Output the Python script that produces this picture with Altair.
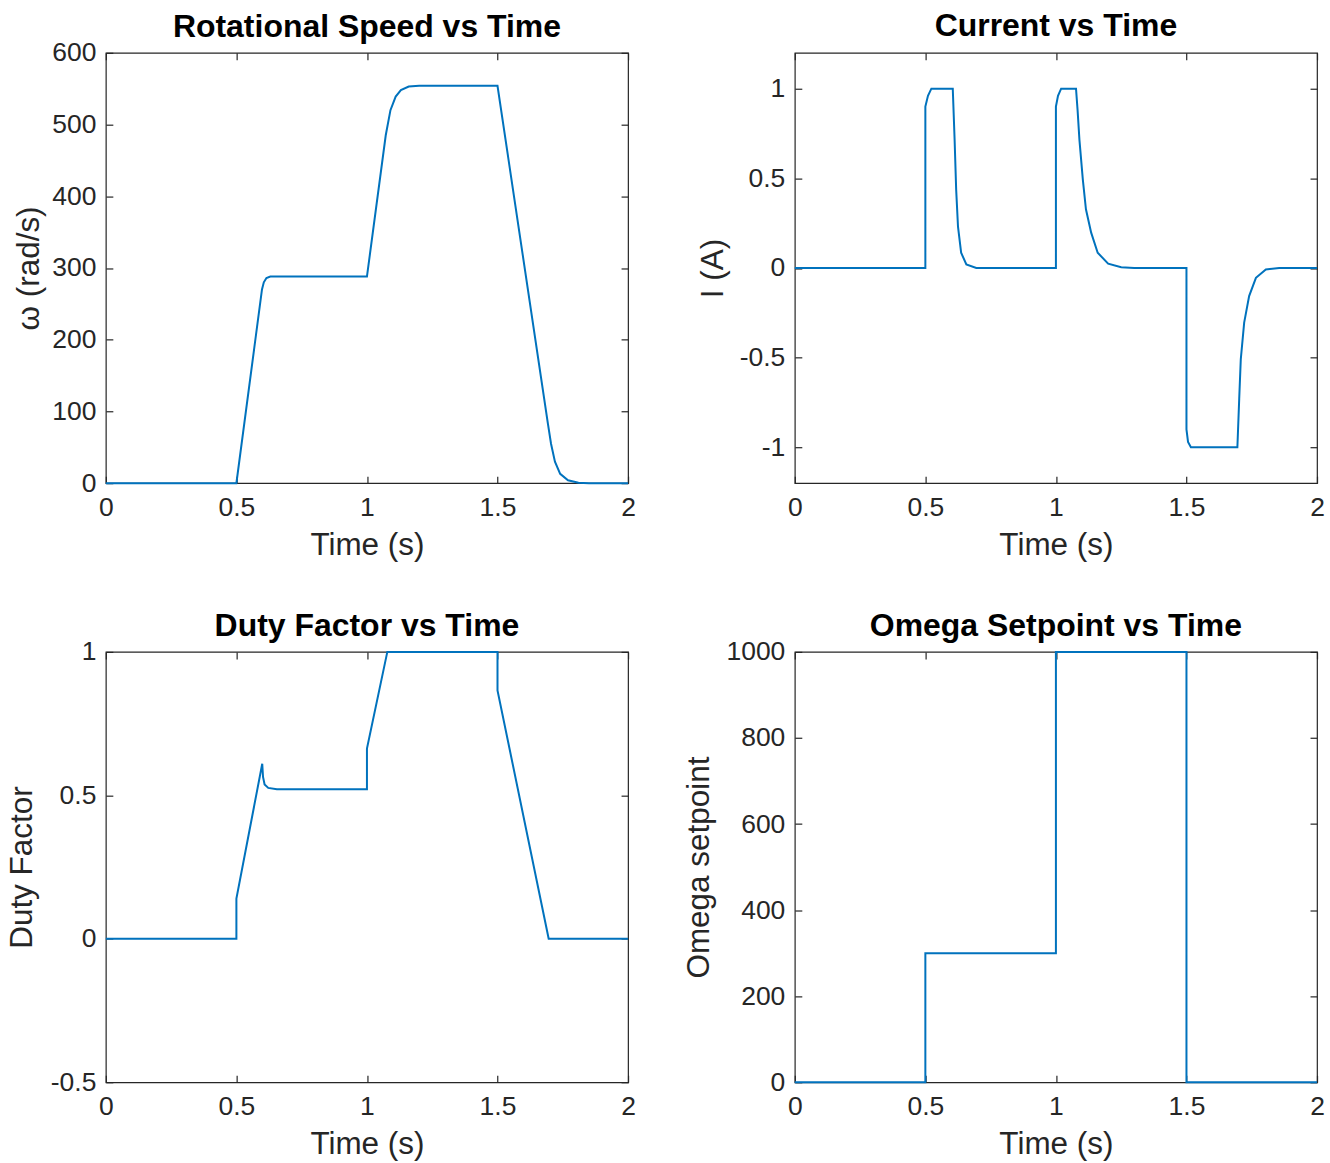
import altair as alt
import pandas as pd

# ---------------- data ----------------
speed_t = [0, 0.5, 0.598, 0.605, 0.615, 0.63, 1.0, 1.072, 1.09, 1.11, 1.13, 1.16, 1.2, 1.5,
           1.693, 1.705, 1.72, 1.74, 1.77, 1.81, 1.85, 2.0]
speed_w = [0, 0, 270, 280, 286, 288, 288, 485, 520, 539, 548, 553, 554, 554,
           83, 55, 30, 13, 4, 0.5, 0, 0]

cur_t = [0, 0.5, 0.5, 0.51, 0.523, 0.605, 0.612, 0.618, 0.625, 0.637, 0.657, 0.695,
         1.0, 1.0, 1.008, 1.02, 1.077, 1.083, 1.09, 1.103, 1.115, 1.135, 1.16, 1.2, 1.25, 1.3,
         1.5, 1.5, 1.506, 1.517, 1.695, 1.702, 1.708, 1.721, 1.740, 1.766, 1.804, 1.855, 2.0]
cur_a = [0, 0, 0.9, 0.96, 1.0, 1.0, 0.716, 0.437, 0.23, 0.085, 0.02, 0,
         0, 0.9, 0.96, 1.0, 1.0, 0.88, 0.716, 0.494, 0.327, 0.197, 0.085, 0.024, 0.004, 0,
         0, -0.9, -0.97, -1.0, -1.0, -0.73, -0.51, -0.305, -0.157, -0.055, -0.008, 0, 0]

duty_t = [0, 0.5, 0.5, 0.599, 0.602, 0.608, 0.622, 0.655, 1.0, 1.0, 1.078, 1.5, 1.5, 1.696, 2.0]
duty_v = [0, 0, 0.14, 0.61, 0.564, 0.538, 0.526, 0.521, 0.521, 0.663, 1.0, 1.0, 0.866, 0, 0]

set_t = [0, 0.5, 0.5, 1.0, 1.0, 1.5, 1.5, 2.0]
set_v = [0, 0, 300, 300, 1000, 1000, 0, 0]

x_ticks = [0, 0.5, 1, 1.5, 2]
speed_ticks = [0, 100, 200, 300, 400, 500, 600]
cur_ticks = [-1, -0.5, 0, 0.5, 1]
duty_ticks = [-0.5, 0, 0.5, 1]
set_ticks = [0, 200, 400, 600, 800, 1000]

# ---------------- styling ----------------
BLUE = "#0072BD"
AX = "#262626"
FONT = "Liberation Sans"
W, H = 523, 431
TL = 7
LABEL_EXPR = "datum.value < 0 ? '-' + format(-datum.value, '~g') : format(datum.value, '~g')"


def panel(t, v, title, ytitle, ydomain, yticks, ytpad, toff):
    df = pd.DataFrame({"t": t, "v": v, "i": list(range(len(t)))})
    xs = alt.Scale(domain=[0, 2], nice=False, zero=False)
    ys = alt.Scale(domain=ydomain, nice=False, zero=False)
    base = alt.Chart(df)
    main = base.mark_line(color=BLUE, strokeWidth=2).encode(
        x=alt.X("t:Q", scale=xs, axis=alt.Axis(
            orient="bottom", values=x_ticks, labelExpr=LABEL_EXPR, title="Time (s)",
            ticks=False, domain=False, grid=False, labelPadding=11, titlePadding=9,
            labelFlush=False)),
        y=alt.Y("v:Q", scale=ys, axis=alt.Axis(
            orient="left", values=yticks, labelExpr=LABEL_EXPR, title=ytitle,
            ticks=False, domain=False, grid=False, labelPadding=10, titlePadding=ytpad,
            labelFlush=False)),
        order="i:Q",
    )
    inner_bl = base.mark_line(opacity=0).encode(
        x=alt.X("t:Q", scale=xs, axis=alt.Axis(
            orient="bottom", values=x_ticks, labels=False, title=None, ticks=True,
            tickSize=TL, offset=-TL, domain=False, grid=False)),
        y=alt.Y("v:Q", scale=ys, axis=alt.Axis(
            orient="left", values=yticks, labels=False, title=None, ticks=True,
            tickSize=TL, offset=-TL, domain=False, grid=False)),
        order="i:Q",
    )
    inner_tr = base.mark_line(opacity=0).encode(
        x=alt.X("t:Q", scale=xs, axis=alt.Axis(
            orient="top", values=x_ticks, labels=False, title=None, ticks=True,
            tickSize=TL, offset=-TL, domain=False, grid=False)),
        y=alt.Y("v:Q", scale=ys, axis=alt.Axis(
            orient="right", values=yticks, labels=False, title=None, ticks=True,
            tickSize=TL, offset=-TL, domain=False, grid=False)),
        order="i:Q",
    )
    return alt.layer(main, inner_bl, inner_tr).resolve_axis(
        x="independent", y="independent"
    ).properties(
        width=W, height=H,
        title=alt.TitleParams(title, fontSize=32, fontWeight="bold", color="black",
                              font=FONT, anchor="middle", frame="group", offset=toff),
    )


p1 = panel(speed_t, speed_w, "Rotational Speed vs Time", "ω (rad/s)", [0, 600], speed_ticks, 6, -4)
p2 = panel(cur_t, cur_a, "Current vs Time", "I (A)", [-1.2, 1.2], cur_ticks, 10, 9)
p3 = panel(duty_t, duty_v, "Duty Factor vs Time", "Duty Factor", [-0.5, 1], duty_ticks, 12, -4)
p4 = panel(set_t, set_v, "Omega Setpoint vs Time", "Omega setpoint", [0, 1000], set_ticks, 10, -4)

chart = alt.concat(p1, p2, p3, p4, columns=2, spacing={"row": 47, "column": 47}).properties(
    padding={"left": 5, "top": 8, "right": 5, "bottom": 5},
    background="white",
).configure_view(
    stroke=AX, strokeWidth=1.2
).configure_axis(
    labelFont=FONT, labelFontSize=26.5, labelColor=AX,
    titleFont=FONT, titleFontSize=31.5, titleColor=AX, titleFontWeight="normal",
    tickColor=AX, tickWidth=1.2,
)

chart.save("out.html", embed_options={"renderer": "svg", "actions": False})
